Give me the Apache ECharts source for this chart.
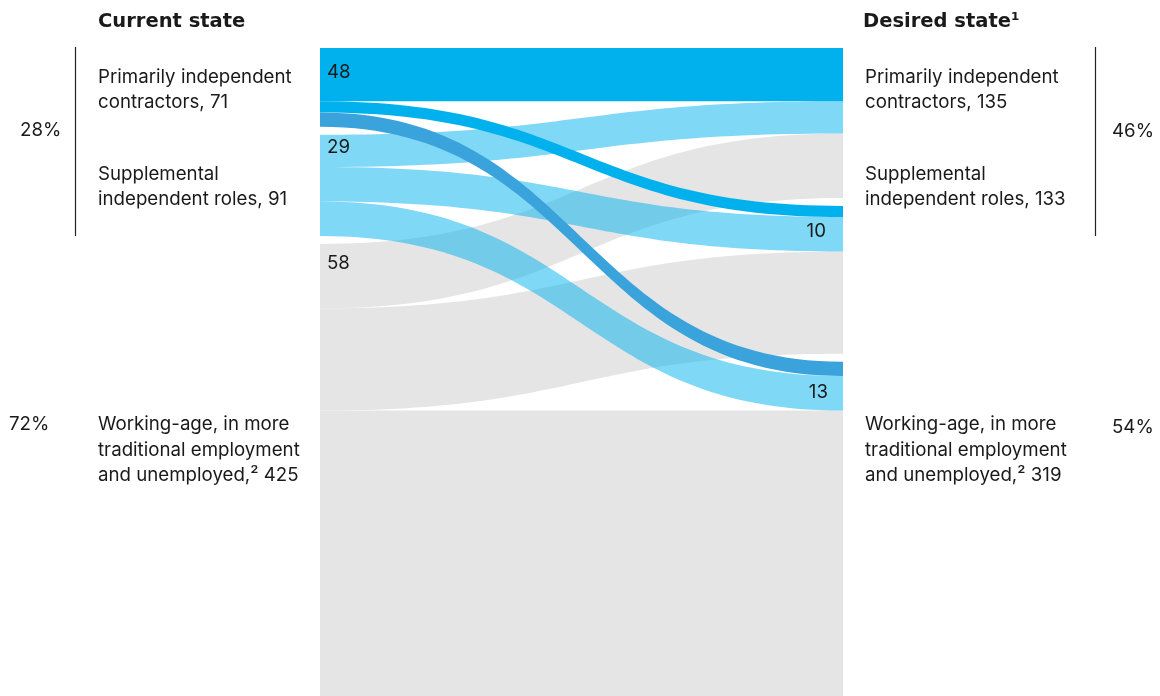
<!DOCTYPE html>
<html>
<head>
<meta charset="utf-8">
<script src="https://cdn.jsdelivr.net/npm/echarts@6/dist/echarts.min.js"></script>
<style>
html,body{margin:0;padding:0;background:#fff;}
#chart{width:1160px;height:696px;}
</style>
</head>
<body>
<div id="chart"></div>
<script>
// ---- data ----
const stateTitles = ['Current state', 'Desired state\u00b9'];
const categoryLines = [
  ['Primarily independent', 'contractors, '],
  ['Supplemental', 'independent roles, '],
  ['Working-age, in more', 'traditional employment', 'and unemployed,\u00b2 ']
];
const currentTotals = [71, 91, 425];
const desiredTotals = [135, 133, 319];
// flows from each current category to desired categories [primarily, supplemental, working-age]
const flowsFromPrimarily = [48, 10, 13];
const flowsFromSupplemental = [29, 31, 31];
const flowsFromWorkingAge = [58, 92, 275];

// ---- styles ----
const FONT = 'Inter, "Liberation Sans", Arial, sans-serif';
const TITLE_FONT = '"DejaVu Sans", Inter, sans-serif';
const TEXT = '#1a1a1a';
const BLUE = '#00b1ee';
const DARK_BLUE = '#3ba3dc';
const GREY = '#e5e5e5';
const LABEL_SIZE = 18.7;

const nodes = [];
['c0','c1','c2','d0','d1','d2'].forEach(n => nodes.push({name: n}));

function link(s, t, v, color, opacity) {
  return {source: s, target: t, value: v, lineStyle: {color: color, opacity: opacity}};
}
const links = [];
flowsFromWorkingAge.forEach((v, j) => links.push(link('c2', 'd' + j, v, GREY, 1)));
flowsFromSupplemental.forEach((v, j) => links.push(link('c1', 'd' + j, v, BLUE, 0.5)));
links.push(link('c0', 'd0', flowsFromPrimarily[0], BLUE, 1));
links.push(link('c0', 'd1', flowsFromPrimarily[1], BLUE, 1));
links.push(link('c0', 'd2', flowsFromPrimarily[2], DARK_BLUE, 1));

// ---- texts ----
const graphics = [];
function txt(x, y, text, size, weight, align, family) {
  graphics.push({
    type: 'text', x: x, y: y, silent: true, z: 10,
    style: {
      text: text, fill: TEXT,
      font: (weight || 'normal') + ' ' + size + 'px ' + (family || FONT),
      textAlign: align || 'left', align: align || 'left',
      textVerticalAlign: 'middle', verticalAlign: 'middle'
    }
  });
}
txt(98, 22, stateTitles[0], 19.5, 'bold', 'left', TITLE_FONT);
txt(863, 22, stateTitles[1], 19.5, 'bold', 'left', TITLE_FONT);

const lineCenters = [[77, 102], [174.5, 199.5], [424.5, 450, 475.5]];
categoryLines.forEach((lines, i) => {
  lines.forEach((l, k) => {
    const last = k === lines.length - 1;
    txt(98, lineCenters[i][k], l + (last ? currentTotals[i] : ''), LABEL_SIZE);
    txt(865, lineCenters[i][k], l + (last ? desiredTotals[i] : ''), LABEL_SIZE);
  });
});

const curSum = currentTotals.reduce((a, b) => a + b, 0);
const desSum = desiredTotals.reduce((a, b) => a + b, 0);
txt(20, 130, Math.round((currentTotals[0] + currentTotals[1]) / curSum * 100) + '%', LABEL_SIZE);
txt(9, 424.5, Math.round(currentTotals[2] / curSum * 100) + '%', LABEL_SIZE);
txt(1112, 131, Math.round((desiredTotals[0] + desiredTotals[1]) / desSum * 100) + '%', LABEL_SIZE);
txt(1112, 427.5, Math.round(desiredTotals[2] / desSum * 100) + '%', LABEL_SIZE);

// flow value labels
txt(327, 72.5, String(flowsFromPrimarily[0]), LABEL_SIZE);
txt(327, 147.5, String(flowsFromSupplemental[0]), LABEL_SIZE);
txt(327, 263, String(flowsFromWorkingAge[0]), LABEL_SIZE);
txt(826, 231, String(flowsFromPrimarily[1]), LABEL_SIZE, 'normal', 'right');
txt(828, 392, String(flowsFromPrimarily[2]), LABEL_SIZE, 'normal', 'right');

// brackets
graphics.push({type: 'line', silent: true, shape: {x1: 75.5, y1: 47, x2: 75.5, y2: 236}, style: {stroke: '#222', lineWidth: 1.2}});
graphics.push({type: 'line', silent: true, shape: {x1: 1095.5, y1: 47, x2: 1095.5, y2: 236}, style: {stroke: '#222', lineWidth: 1.2}});

const chart = echarts.init(document.getElementById('chart'), null, {renderer: 'canvas'});
chart.setOption({
  animation: false,
  backgroundColor: '#fff',
  graphic: graphics,
  series: [{
    type: 'sankey',
    left: 319, top: 48, width: 525, height: 668,
    nodeWidth: 1, nodeGap: 8,
    layoutIterations: 0,
    nodeAlign: 'justify',
    draggable: false,
    silent: true,
    emphasis: {disabled: true},
    label: {show: false},
    itemStyle: {opacity: 0, borderWidth: 0},
    lineStyle: {curveness: 0.5},
    data: nodes,
    links: links
  }]
});
</script>
</body>
</html>
